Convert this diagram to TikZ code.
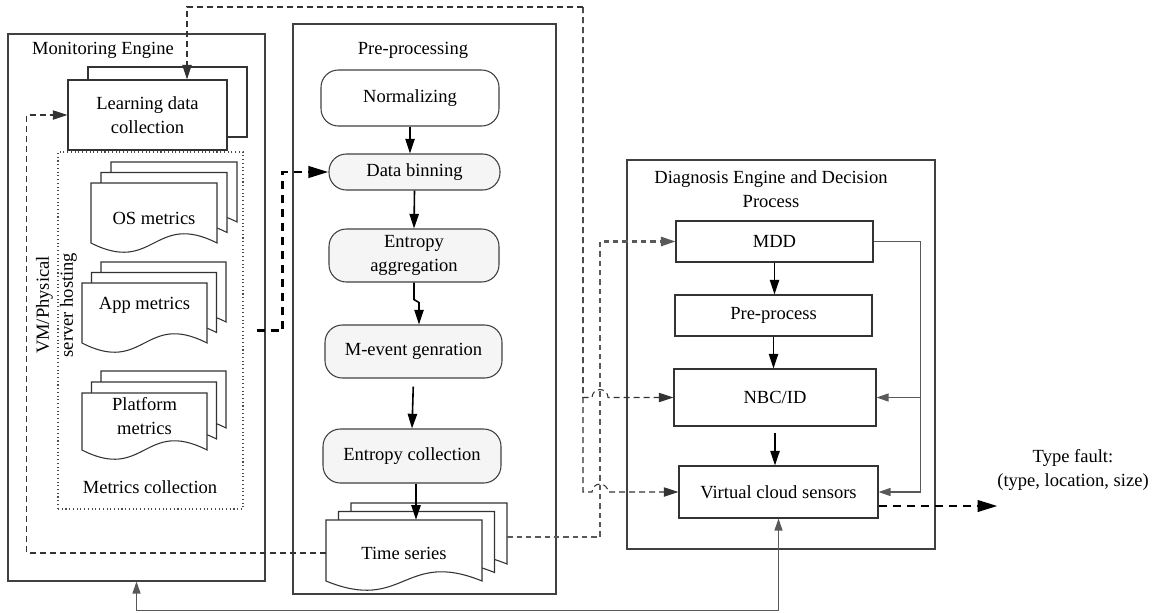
\documentclass[tikz,border=0pt]{standalone}
\usepackage{fontspec}
\setmainfont{Liberation Serif}
\usetikzlibrary{arrows.meta, positioning, calc, shadows}

\begin{document}
\begin{tikzpicture}[
  x=0.75pt, y=-0.75pt,
  font=\fontsize{13.9}{18}\selectfont,
  >={Triangle[length=11pt,width=7pt]},
  sz/.style 2 args={minimum width=#1*0.75pt, minimum height=#2*0.75pt},
  cont/.style={draw=black!75, line width=0.8pt, inner sep=0pt},
  box/.style={draw=black!80, line width=0.8pt, fill=white, align=center, inner sep=2pt},
  stage/.style={draw=black!75, line width=0.8pt, rounded corners=13pt,
                fill=gray!8, align=center, inner sep=2pt},
  page/.style={draw=black!80, line width=0.8pt, fill=white},
  doctxt/.style={align=center, inner sep=1pt},
  flow/.style={->, black, line width=1.2pt},
  fbk/.style={->, black!65, line width=0.9pt, >={Triangle[length=9pt,width=6pt]}},
  thn/.style={->, black!80, line width=0.8pt, dash pattern=on 4.5pt off 3pt},
  thk/.style={-{Triangle[length=15pt,width=8.5pt]}, black, line width=2.2pt,
              dash pattern=on 6pt off 4.5pt},
  thkg/.style={->, black!65, line width=1.6pt, dash pattern=on 4pt off 3pt}
]
  \useasboundingbox (0,0) rectangle (1160,612);

  % one page of a document stack: left, top, right, bottom
  \def\docpage#1#2#3#4{%
    \draw[page] (#1,#2) -- (#3,#2) -- (#3,#4)
      .. controls ({(#1+#3)/2},{#4-32}) and ({(#1+#3)/2},{#4+32}) .. (#1,#4) -- cycle;}
  % three pages, shifted by dx right and dy up
  \def\docstack#1#2#3#4#5#6{%
    \docpage{#1+2*#5}{#2-2*#6}{#3+2*#5}{#4-2*#6}
    \docpage{#1+#5}{#2-#6}{#3+#5}{#4-#6}
    \docpage{#1}{#2}{#3}{#4}}

  %--- containers ---
  \node[cont, sz={257}{547}] (me) at (136.5,307.5) {};
  \node (melbl) at (103,50) {Monitoring Engine};
  \node[cont, sz={263}{570}] (pp) at (424.5,309) {};
  \node (pplbl) at (413,50) {Pre-processing};
  \node[cont, sz={308}{389}] (de) at (781,354.5) {};
  \node[align=center] (delbl) at (771,189) {Diagnosis Engine and Decision\\Process};

  %--- monitoring engine ---
  \node[box, sz={159}{70},
        copy shadow={shadow xshift=15pt, shadow yshift=9.75pt,
                     draw=black!80, line width=0.8pt}]
    (ldc) at (147.5,115) {Learning data\\collection};

  \node[draw=black!70, line width=0.8pt, dotted, sz={185}{357}] (mc) at (150.5,330.5) {};
  \node (mclbl) at (150,487) {Metrics collection};
  \node[rotate=90, align=center] (host) at (56.5,305) {VM/Physical\\server hosting};

  \docstack{91}{183}{217}{243}{10}{10.5}
  \node[doctxt] (osm) at (154,218) {OS metrics};
  \docstack{82}{283}{207}{343}{9.5}{10.5}
  \node[doctxt] (appm) at (144.5,305) {App metrics};
  \docstack{82}{393}{207}{450}{9.5}{11}
  \node[doctxt] (platm) at (144.5,416) {Platform\\metrics};

  %--- pre-processing ---
  \node[stage, fill=white, sz={178}{56}] (norm) at (410,98) {Normalizing};
  \node[stage, sz={171}{36}] (bin)  at (414.5,172) {Data binning};
  \node[stage, sz={170}{53}] (agg)  at (414,255.5) {Entropy\\aggregation};
  \node[stage, sz={177}{53}] (mev)  at (413.5,351.5) {M-event genration};
  \node[stage, sz={178}{54}] (ecol) at (412,456) {Entropy collection};

  \docstack{326}{520}{482}{581}{12.5}{8.5}
  \node[doctxt, sz={156}{66}] (ts) at (404,553) {Time series};

  \draw[flow] (norm.south) -- (norm.south |- bin.north);
  \draw[flow] (bin.south) -- (agg.north);
  \draw[flow] (agg.south) -- ++(0,17) -- ++(5,3) -- ($(mev.north)+(5.5,0)$);
  \draw[flow, shorten <=6pt] (mev.south) -- (ecol.north);
  \draw[flow] ($(ecol.south)+(4,0)$) -- ($(ts.north)+(12,0)$);

  %--- diagnosis engine ---
  \node[box, sz={197}{41}] (mdd)  at (774.5,241.5) {MDD};
  \node[box, sz={197}{41}] (prep) at (773.5,315.5) {Pre-process};
  \node[box, sz={202}{57}] (nbc)  at (775,397.5) {NBC/ID};
  \node[box, sz={199}{52}] (vcs)  at (778.5,492) {Virtual cloud sensors};

  \draw[flow] (mdd.south) -- (mdd.south |- prep.north);
  \draw[flow] (prep.south) -- (prep.south |- nbc.north);
  \draw[flow, shorten <=4.5pt] (nbc.south) -- (nbc.south |- vcs.north);

  \coordinate (fb) at ($(mdd.east)+(47,0)$);
  \draw[fbk] (mdd.east) -- (fb) |- (vcs.east);
  \draw[fbk] (fb |- nbc.east) -- (nbc.east);
  \draw[fbk, <->] (me.south) -- ++(0,29) -| (vcs.south);

  %--- data paths ---
  \coordinate (mcout) at ($(mc.east)+(13,0)$);
  \draw[thk] (mcout) -- ++(26,0) |- (bin.west);

  \coordinate (tsout) at ($(ts.east)+(25,-16)$);
  \draw[thkg] (tsout) -- ++(93,0) |- (mdd.west);

  \draw[thn] (ts.west) -- ++(-299,0) |- (ldc.west);

  \coordinate (tap) at (583,7);
  \draw[thn] (tap) -| ($(ldc.north)+(39.5,0)$);
  \draw[thn] (tap) -- (tap |- nbc.west) -- ++(9,0)
    arc[start angle=180, end angle=360, radius=8] -- (nbc.west);
  \draw[thn] (tap) -- (tap |- vcs.west) -- ++(9,0)
    arc[start angle=180, end angle=360, radius=8] -- (vcs.west);

  %--- output ---
  \coordinate (outend) at ($(vcs.east)+(119,14)$);
  \draw[thk] ($(vcs.east)+(0,14)$) -- (outend);
  \node[align=center] (fault) at (1073,470) {Type fault:\\(type, location, size)};

\end{tikzpicture}
\end{document}
